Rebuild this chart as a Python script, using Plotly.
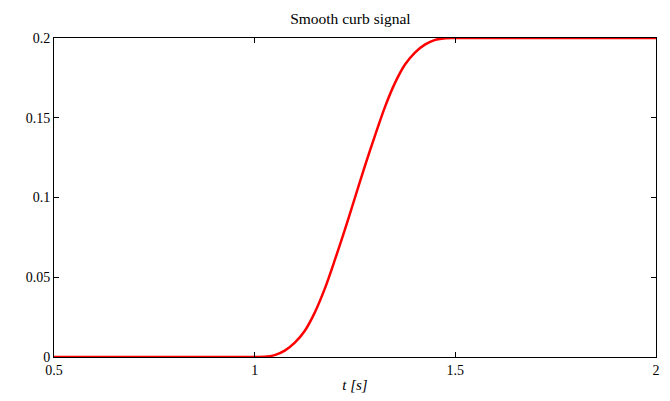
import plotly.graph_objects as go

# Data
t_values = [0.5, 0.75, 0.95, 1.0, 1.025, 1.05, 1.075, 1.1, 1.125, 1.15, 1.175, 1.2, 1.225, 1.25,
            1.275, 1.3, 1.325, 1.35, 1.375, 1.4, 1.425, 1.45, 1.475, 1.5, 1.55, 1.75, 2.0]
signal_values = [0.0, 0.0, 0.0, 0.0, 0.0001, 0.0012, 0.0040, 0.0090, 0.0165, 0.0280, 0.0430, 0.0610, 0.0800, 0.1000,
                 0.1200, 0.1390, 0.1570, 0.1720, 0.1835, 0.1910, 0.1960, 0.1988, 0.1999, 0.2, 0.2, 0.2, 0.2]

x_ticks = [0.5, 1, 1.5, 2]
x_tick_labels = ["0.5", "1", "1.5", "2"]
y_ticks = [0, 0.05, 0.1, 0.15, 0.2]
y_tick_labels = ["0", "0.05", "0.1", "0.15", "0.2"]

font_family = "Liberation Serif"

fig = go.Figure()
fig.add_trace(go.Scatter(
    x=t_values, y=signal_values, mode="lines",
    line=dict(color="#ff0000", width=2.5, shape="spline", smoothing=0.8),
    showlegend=False, hoverinfo="skip", cliponaxis=False,
))

axis_common = dict(
    showgrid=False, zeroline=False, showline=True, linecolor="black", linewidth=1,
    mirror="ticks", ticks="inside", ticklen=5, tickcolor="black", tickwidth=1,
    tickfont=dict(family=font_family, size=14, color="black"),
)

fig.update_layout(
    width=670, height=401,
    margin=dict(l=54, r=10, t=38, b=44),
    paper_bgcolor="white", plot_bgcolor="white",
    title=dict(text="Smooth curb signal", x=0.523, xanchor="center", y=0.953, yanchor="middle",
               font=dict(family=font_family, size=15.5, color="black")),
    xaxis=dict(range=[0.5, 2], tickmode="array", tickvals=x_ticks, ticktext=x_tick_labels,
               title=dict(text="<i>t [s]</i>", font=dict(family=font_family, size=15, color="black"),
                          standoff=2),
               **axis_common),
    yaxis=dict(range=[0, 0.2], tickmode="array", tickvals=y_ticks, ticktext=y_tick_labels,
               **axis_common),
)

fig.write_html("out.html", config={"displayModeBar": False},
               post_script="document.body.style.margin='0px';")
